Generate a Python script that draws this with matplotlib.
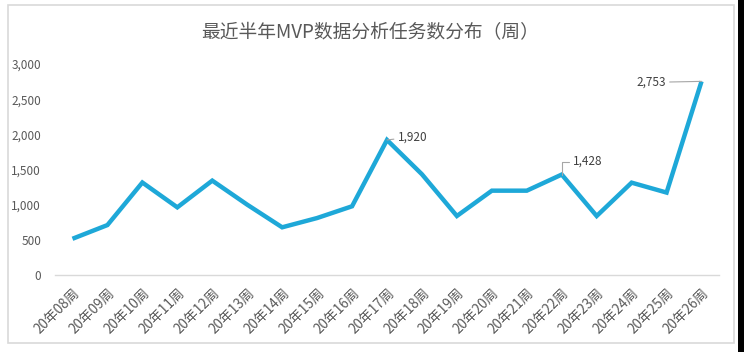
import matplotlib
matplotlib.use('Agg')
import matplotlib.pyplot as plt
from matplotlib.patches import Rectangle

plt.rcParams['font.family'] = ['Noto Sans CJK SC', 'DejaVu Sans']

weeks = ['20年08周', '20年09周', '20年10周', '20年11周', '20年12周', '20年13周',
         '20年14周', '20年15周', '20年16周', '20年17周', '20年18周', '20年19周',
         '20年20周', '20年21周', '20年22周', '20年23周', '20年24周', '20年25周',
         '20年26周']
tasks = [515, 710, 1315, 962, 1342, 1000, 678, 810, 977, 1920, 1432, 839,
         1199, 1199, 1428, 839, 1313, 1172, 2753]
yticks = [0, 500, 1000, 1500, 2000, 2500, 3000]

W, H = 744, 352
fig = plt.figure(figsize=(W / 100, H / 100), dpi=100)
fig.patch.set_facecolor('white')

# outer frame + dark strip on the right edge
fig.patches.append(Rectangle((8 / W, 9 / H), 726 / W, 338 / H, transform=fig.transFigure,
                             fill=False, edgecolor='#d9d9d9', lw=1.2))
fig.patches.append(Rectangle((738 / W, 0), 6 / W, 1, transform=fig.transFigure,
                             facecolor='black', edgecolor='none'))

ax = fig.add_axes([55 / W, (H - 275) / H, 664 / W, 211 / H])
x = list(range(len(weeks)))
ax.plot(x, tasks, color='#1ea8d8', lw=3.2, solid_joinstyle='miter', solid_capstyle='butt')

ax.set_xlim(-0.5, len(weeks) - 0.5)
ax.set_ylim(0, 3000)
ax.set_yticks(yticks)
ax.set_yticklabels(['{:,}'.format(v) for v in yticks])
ax.set_xticks(x)
ax.set_xticklabels(weeks, rotation=45, ha='right', va='top', rotation_mode='anchor')
ax.tick_params(axis='both', length=0, labelcolor='#595959')
ax.tick_params(axis='y', pad=10, labelsize=8.5)
ax.tick_params(axis='x', pad=8, labelsize=9.8)
for s in ['top', 'right', 'left']:
    ax.spines[s].set_visible(False)
ax.spines['bottom'].set_color('#d9d9d9')
ax.spines['bottom'].set_linewidth(1.0)
ax.set_facecolor('none')

fig.text(0.497, 1 - 33 / H, '最近半年MVP数据分析任务数分布（周）', ha='center', va='center',
         fontsize=13.5, color='#595959')

lead = dict(arrowstyle='-', color='#a6a6a6', lw=0.8, shrinkA=1, shrinkB=0)
ax.annotate('{:,}'.format(tasks[9]), xy=(9, tasks[9]), xytext=(11, 3),
            textcoords='offset pixels', ha='left', va='center', fontsize=8.5, color='#404040',
            arrowprops=lead)
ax.annotate('{:,}'.format(tasks[14]), xy=(14, tasks[14]), xytext=(11, 13),
            textcoords='offset pixels', ha='left', va='center', fontsize=8.5, color='#404040',
            arrowprops=dict(lead, connectionstyle='angle,angleA=0,angleB=90,rad=0'))
ax.annotate('{:,}'.format(tasks[18]), xy=(18, tasks[18]), xytext=(-36, -1),
            textcoords='offset pixels', ha='right', va='center', fontsize=8.5, color='#404040',
            arrowprops=lead)

fig.savefig('out.png', dpi=100)
